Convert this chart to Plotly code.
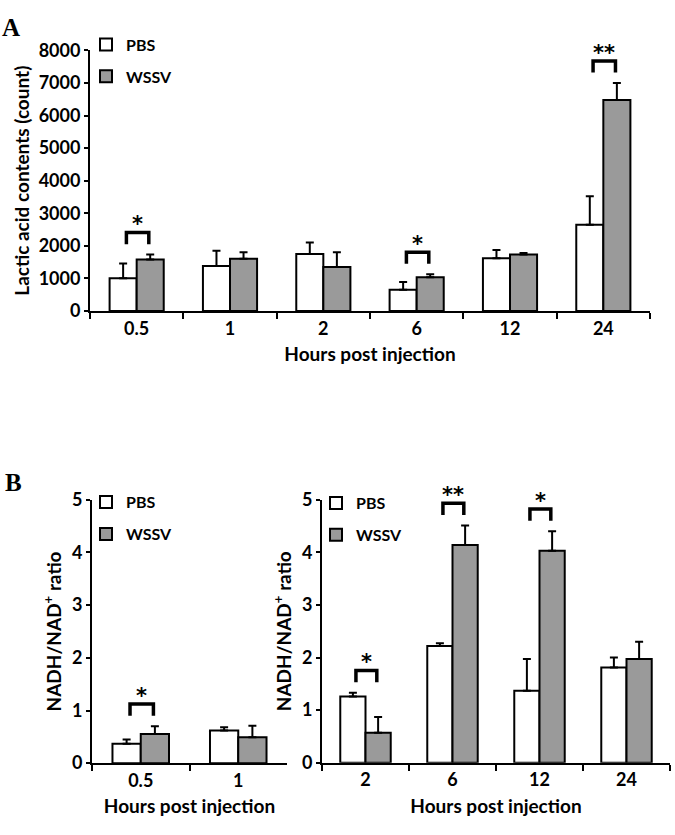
import plotly.graph_objects as go

# ---------------- data ----------------
hours_a = ["0.5", "1", "2", "6", "12", "24"]
lactic_pbs = [1000, 1380, 1750, 650, 1620, 2650]
lactic_pbs_err = [460, 470, 350, 240, 250, 870]
lactic_wssv = [1580, 1600, 1350, 1035, 1730, 6480]
lactic_wssv_err = [150, 200, 450, 90, 50, 520]
sig_a = {"0.5": "*", "6": "*", "24": "**"}

hours_b1 = ["0.5", "1"]
ratio_pbs_b1 = [0.37, 0.62]
ratio_pbs_err_b1 = [0.08, 0.06]
ratio_wssv_b1 = [0.555, 0.49]
ratio_wssv_err_b1 = [0.145, 0.22]
sig_b1 = {"0.5": "*"}

hours_b2 = ["2", "6", "12", "24"]
ratio_pbs_b2 = [1.26, 2.22, 1.37, 1.81]
ratio_pbs_err_b2 = [0.07, 0.05, 0.60, 0.19]
ratio_wssv_b2 = [0.57, 4.14, 4.03, 1.97]
ratio_wssv_err_b2 = [0.30, 0.37, 0.37, 0.33]
sig_b2 = {"2": "*", "6": "**", "12": "*"}

W, H = 675, 835
FONT = "Lato"
PBS_FILL = "#ffffff"
WSSV_FILL = "#9a9a9a"

fig = go.Figure()


def add_panel(cats, pbs, pbs_err, wssv, wssv_err, xa, ya, legend_name):
    for name, vals, errs, fill in (("PBS", pbs, pbs_err, PBS_FILL),
                                   ("WSSV", wssv, wssv_err, WSSV_FILL)):
        fig.add_trace(go.Bar(
            x=cats, y=vals, name=name,
            marker=dict(color=fill, line=dict(color="black", width=2)),
            error_y=dict(type="data", array=errs, arrayminus=[0] * len(errs),
                         symmetric=False, color="black", thickness=2, width=4),
            xaxis=xa, yaxis=ya, legend=legend_name, legendgroup=legend_name + name,
        ))


def add_sig(cats, pbs, pbs_err, wssv, wssv_err, sig, xref, yref, yrange):
    span = yrange[1] - yrange[0]
    for i, c in enumerate(cats):
        if c not in sig:
            continue
        top = max(pbs[i] + pbs_err[i], wssv[i] + wssv_err[i])
        yb = top + 0.04 * span
        yt = yb + 0.045 * span
        x0, x1 = i - 0.11, i + 0.13
        fig.add_shape(type="path",
                      path=f"M {x0},{yb} L {x0},{yt} L {x1},{yt} L {x1},{yb}",
                      xref=xref, yref=yref, line=dict(color="black", width=3.5))
        fig.add_annotation(x=i + 0.01, y=yt, xref=xref, yref=yref, text=sig[c],
                           showarrow=False, yanchor="bottom", yshift=-6,
                           font=dict(family="DejaVu Sans", size=21, color="black", weight="bold"))


add_panel(hours_a, lactic_pbs, lactic_pbs_err, lactic_wssv, lactic_wssv_err, "x", "y", "legend")
add_panel(hours_b1, ratio_pbs_b1, ratio_pbs_err_b1, ratio_wssv_b1, ratio_wssv_err_b1, "x2", "y2", "legend2")
add_panel(hours_b2, ratio_pbs_b2, ratio_pbs_err_b2, ratio_wssv_b2, ratio_wssv_err_b2, "x3", "y3", "legend3")

add_sig(hours_a, lactic_pbs, lactic_pbs_err, lactic_wssv, lactic_wssv_err, sig_a, "x", "y", [0, 8000])
add_sig(hours_b1, ratio_pbs_b1, ratio_pbs_err_b1, ratio_wssv_b1, ratio_wssv_err_b1, sig_b1, "x2", "y2", [0, 5])
add_sig(hours_b2, ratio_pbs_b2, ratio_pbs_err_b2, ratio_wssv_b2, ratio_wssv_err_b2, sig_b2, "x3", "y3", [0, 5])

tickfont = dict(family=FONT, size=18, color="black", weight="bold")
titlefont = dict(family=FONT, size=19, color="black", weight="bold")


def xaxis(domain, anchor):
    return dict(domain=domain, anchor=anchor, type="category",
                showline=True, linecolor="black", linewidth=2,
                ticks="outside", tickson="boundaries", ticklen=6, tickwidth=2, tickcolor="black",
                tickfont=tickfont, showgrid=False, zeroline=False,
                title=dict(text="Hours post injection", font=titlefont, standoff=10),
                fixedrange=True)


def yaxis(domain, anchor, rng, dtick, title, standoff):
    return dict(domain=domain, anchor=anchor, range=rng, dtick=dtick,
                showline=True, linecolor="black", linewidth=2,
                ticks="outside", ticklen=4, tickwidth=2, tickcolor="black",
                tickfont=tickfont, showgrid=False, zeroline=False,
                title=dict(text=title, font=titlefont, standoff=standoff),
                fixedrange=True)


def px_x(p):
    return p / W


def px_y(p):
    return 1 - p / H


nad_title = "NADH/NAD<sup>+</sup> ratio"

legend_common = dict(bgcolor="rgba(0,0,0,0)", borderwidth=0,
                     font=dict(family=FONT, size=16, color="black", weight="bold"),
                     tracegroupgap=8, xanchor="left", yanchor="top", itemclick=False)

fig.update_layout(
    width=W, height=H,
    margin=dict(l=0, r=0, t=0, b=0),
    paper_bgcolor="white", plot_bgcolor="white",
    barmode="group", bargap=0.42, bargroupgap=0,
    xaxis=xaxis([px_x(90), px_x(650)], "y"),
    yaxis=yaxis([px_y(307), px_y(39.5)], "x", [0, 8000], 1000,
                "Lactic acid contents (count)", 4),
    xaxis2=xaxis([px_x(92), px_x(287)], "y2"),
    yaxis2=yaxis([px_y(771.5), px_y(501)], "x2", [0, 5], 1, nad_title, 5),
    xaxis3=xaxis([px_x(322), px_x(670)], "y3"),
    yaxis3=yaxis([px_y(771), px_y(501)], "x3", [0, 5], 1, nad_title, 5),
    legend=dict(x=px_x(86), y=px_y(16), **legend_common),
    legend2=dict(x=px_x(86), y=px_y(486), **legend_common),
    legend3=dict(x=px_x(316), y=px_y(487), **legend_common),
    showlegend=True,
)

fig.add_annotation(text="A", x=0, y=px_y(0), xref="paper", yref="paper",
                   xanchor="left", yanchor="top", showarrow=False,
                   font=dict(family="Liberation Serif", size=25, color="black", weight="bold"))
fig.add_annotation(text="B", x=px_x(3), y=px_y(467), xref="paper", yref="paper",
                   xanchor="left", yanchor="top", showarrow=False,
                   font=dict(family="Liberation Serif", size=25, color="black", weight="bold"))

fig.write_html("out.html", config={"displayModeBar": False},
               post_script="document.body.style.margin='0px';")
